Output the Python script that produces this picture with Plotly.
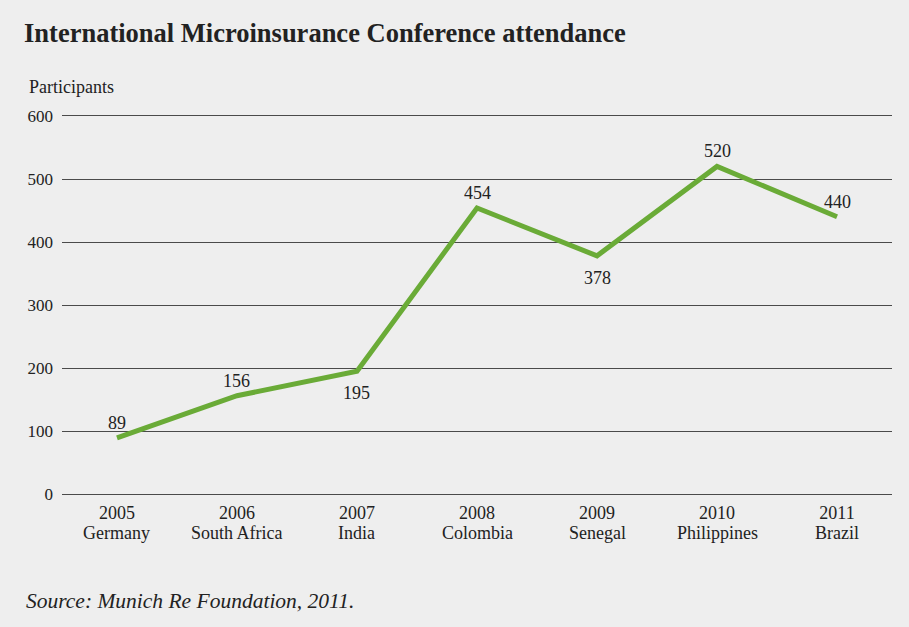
import plotly.graph_objects as go

# Conference attendance by year and host country
years = ["2005", "2006", "2007", "2008", "2009", "2010", "2011"]
hosts = ["Germany", "South Africa", "India", "Colombia", "Senegal", "Philippines", "Brazil"]
participants = [89, 156, 195, 454, 378, 520, 440]
label_above = [True, True, False, True, False, True, True]

SERIF = "Liberation Serif, Times New Roman, serif"
BG = "#eeeeee"
GREEN = "#6aab37"
INK = "#222222"
GRID = "#4a4a4a"

idx = list(range(len(years)))
PLOT_H = 378  # plot area height in px, used to place notes outside it

fig = go.Figure()
fig.add_trace(go.Scatter(
    x=idx, y=participants, mode="lines",
    line=dict(color=GREEN, width=5),
    hoverinfo="skip", showlegend=False,
))

# value labels next to each point
for i, v, up in zip(idx, participants, label_above):
    fig.add_annotation(
        x=i, y=v, text=str(v), showarrow=False,
        yanchor="bottom" if up else "top",
        yshift=3 if up else -10,
        font=dict(family=SERIF, size=18, color=INK),
    )

# host country under each year
for i, h in zip(idx, hosts):
    fig.add_annotation(
        x=i, xref="x", y=-39 / PLOT_H, yref="paper", text=h, showarrow=False,
        xanchor="center", yanchor="middle",
        font=dict(family=SERIF, size=18, color=INK),
    )

fig.add_annotation(
    text="<b>International Microinsurance Conference attendance</b>",
    xref="paper", yref="paper", x=-40 / 830, y=1 + 83 / PLOT_H,
    xanchor="left", yanchor="middle", showarrow=False,
    font=dict(family=SERIF, size=26.5, color=INK))
fig.add_annotation(
    text="Participants",
    xref="paper", yref="paper", x=-35 / 830, y=1 + 29 / PLOT_H,
    xanchor="left", yanchor="middle", showarrow=False,
    font=dict(family=SERIF, size=18, color=INK))
fig.add_annotation(
    text="<i>Source: Munich Re Foundation, 2011.</i>",
    xref="paper", yref="paper", x=-38 / 830, y=-107 / PLOT_H,
    xanchor="left", yanchor="middle", showarrow=False,
    font=dict(family=SERIF, size=21.5, color=INK))

fig.update_layout(
    width=909, height=627,
    paper_bgcolor=BG, plot_bgcolor=BG,
    margin=dict(l=62, r=17, t=116, b=133),
    font=dict(family=SERIF, color=INK),
    xaxis=dict(
        range=[-0.458, 6.458], tickmode="array", tickvals=idx, ticktext=years,
        showgrid=False, zeroline=False,
        showline=True, mirror=True, linecolor=GRID, linewidth=1,
        ticks="", ticklabelstandoff=2,
        tickfont=dict(family=SERIF, size=18, color=INK),
    ),
    yaxis=dict(
        range=[0, 600], tickvals=[0, 100, 200, 300, 400, 500, 600],
        showgrid=True, gridcolor=GRID, gridwidth=1,
        zeroline=False, showline=False, ticks="",
        ticklabelstandoff=8,
        tickfont=dict(family=SERIF, size=17, color=INK),
    ),
)

fig.write_html("out.html")
